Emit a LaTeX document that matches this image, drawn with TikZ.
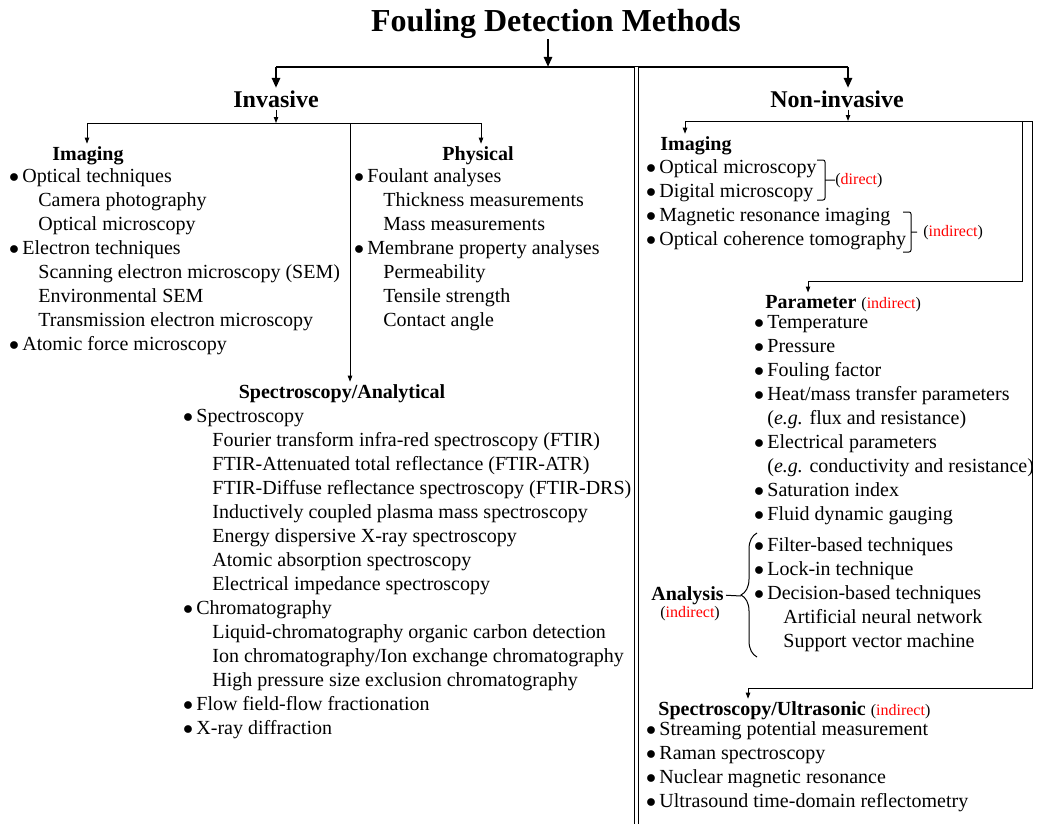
\documentclass[tikz,border=0pt]{standalone}
\usepackage{fontspec}
\setmainfont{Liberation Serif}
\usetikzlibrary{arrows.meta,decorations.pathreplacing,positioning}
\newcommand{\bul}{\makebox[5pt][l]{\hspace*{-1.6pt}$\bullet$}}
\newcommand{\subi}{\hspace*{13pt}}
\newcommand{\noind}{\hspace*{5pt}}
\newcommand{\note}[1]{{\fontsize{8}{9.6}\selectfont(\textcolor{red}{#1})}}
\begin{document}
\begin{tikzpicture}[
  x=0.5pt, y=-0.5pt,
  ttl/.style={font={\fontsize{16}{19}\selectfont\bfseries}, inner sep=0pt, anchor=base},
  grp/.style={font={\fontsize{12}{14}\selectfont\bfseries}, inner sep=1pt, anchor=base},
  hd/.style={font={\fontsize{10}{12}\selectfont\bfseries}, inner sep=1pt, anchor=base},
  hdw/.style={font={\fontsize{10}{12}\selectfont}, inner sep=1pt, anchor=base west},
  itm/.style={font={\fontsize{10}{12}\selectfont}, inner sep=0pt, anchor=base west},
  nt/.style={font={\fontsize{8}{9.6}\selectfont}, inner sep=0pt, anchor=base west},
  tk/.style={line width=1.4pt},
  tka/.style={tk, -{Triangle[length=5pt,width=4pt]}},
  cn/.style={line width=0.5pt},
  cna/.style={cn, -{Triangle[length=3pt,width=2.2pt]}},
  brk/.style={line width=0.5pt, rounded corners=1pt}
]
\useasboundingbox (0,0) rectangle (1037,824);
% top level
\node[ttl] (ttl) at (556,32) {Fouling Detection Methods};
\node[grp] (inv) at (276,107) {Invasive};
\node[grp] (ninv) at (837,107) {Non-invasive};
\coordinate (bm) at (548,67);
\coordinate (bl) at (276,67);
\coordinate (br) at (848,67);
\draw[tk] (bl) -- (br);
\draw[tka] (ttl.south -| bm) -- (bm);
\draw[tka] (bl) -- (inv.north);
\draw[tka] (br) -- (br |- ninv.north);
\coordinate (dv0) at (636.5,67);
\coordinate (dv1) at (636.5,824);
\draw[line width=0.75pt, double distance=1.2pt] (dv0) -- (dv1);
% invasive
\node[hd] (imgL) at (88,160) {Imaging};
\node[hd] (phy) at (478,160) {Physical};
\node[hd] (spa) at (342,398) {Spectroscopy/Analytical};
\coordinate (lrow) at (276,123);
\coordinate (l0) at (87,123);
\coordinate (l1) at (481,123);
\coordinate (l2) at (350,123);
\draw[cn] (l0) -- (l1);
\draw[cna] (inv) -- (lrow);
\draw[cna] (l0) -- (l0 |- imgL.north);
\draw[cna] (l1) -- (l1 |- phy.north);
\draw[cna] (l2) -- (l2 |- spa.north);
\foreach \t [count=\i from 0] in {{\bul Optical techniques}, {\subi Camera photography}, {\subi Optical microscopy}, {\bul Electron techniques}, {\subi Scanning electron microscopy (SEM)}, {\subi Environmental SEM}, {\subi Transmission electron microscopy}, {\bul Atomic force microscopy}}
  \node[itm] (imgL\i) at (12,182+24*\i) {\t};
\foreach \t [count=\i from 0] in {{\bul Foulant analyses}, {\subi Thickness measurements}, {\subi Mass measurements}, {\bul Membrane property analyses}, {\subi Permeability}, {\subi Tensile strength}, {\subi Contact angle}}
  \node[itm] (phy\i) at (357,182+24*\i) {\t};
\foreach \t [count=\i from 0] in {{\bul Spectroscopy}, {\subi Fourier transform infra-red spectroscopy (FTIR)}, {\subi FTIR-Attenuated total reflectance (FTIR-ATR)}, {\subi FTIR-Diffuse reflectance spectroscopy (FTIR-DRS)}, {\subi Inductively coupled plasma mass spectroscopy}, {\subi Energy dispersive X-ray spectroscopy}, {\subi Atomic absorption spectroscopy}, {\subi Electrical impedance spectroscopy}, {\bul Chromatography}, {\subi Liquid-chromatography organic carbon detection}, {\subi Ion chromatography/Ion exchange chromatography}, {\subi High pressure size exclusion chromatography}, {\bul Flow field-flow fractionation}, {\bul X-ray diffraction}}
  \node[itm] (spa\i) at (186,422+24*\i) {\t};
% non-invasive
\node[hd] (imgR) at (696,150) {Imaging};
\node[hdw] (par) at (763,308) {\textbf{Parameter} \note{indirect}};
\node[hdw] (su) at (656,715) {\textbf{Spectroscopy/Ultrasonic} \note{indirect}};
\coordinate (nv) at (848,121);
\coordinate (r0) at (685,121);
\coordinate (r1) at (1022,121);
\coordinate (r2) at (1032,121);
\coordinate (p0) at (808,281);
\coordinate (s0) at (748,688);
\draw[cn] (r0) -- (r2);
\draw[cna] (br |- ninv.south) -- (nv);
\draw[cna] (r0) -- (r0 |- imgR.north);
\draw[cna] (r1) |- (p0) -- (p0 |- par.north);
\draw[cna] (r2) |- (s0) -- (s0 |- su.north);
\foreach \t [count=\i from 0] in {{\bul Optical microscopy}, {\bul Digital microscopy}, {\bul Magnetic resonance imaging}, {\bul Optical coherence tomography}}
  \node[itm] (imgR\i) at (649,173+24*\i) {\t};
\coordinate (b1t) at (817,160);
\coordinate (b1b) at (817,200);
\coordinate (b1m) at (825,180);
\draw[brk] (b1t) -- ++(8,0) -- ++(0,40) -- (b1b);
\node[nt] (dir) at (835,184) {(\textcolor{red}{direct})};
\draw[cn] (b1m) -- (dir.west);
\coordinate (b2t) at (903,212);
\coordinate (b2b) at (903,252);
\coordinate (b2m) at (911,232);
\draw[brk] (b2t) -- ++(8,0) -- ++(0,40) -- (b2b);
\node[nt] (ind) at (923,236) {(\textcolor{red}{indirect})};
\draw[cn] (b2m) -- ([xshift=-3pt]ind.west);
\foreach \t [count=\i from 0] in {{\bul Temperature}, {\bul Pressure}, {\bul Fouling factor}, {\bul Heat/mass transfer parameters}, {\noind(\textit{e.g.} flux and resistance)}, {\bul Electrical parameters}, {\noind(\textit{e.g.} conductivity and resistance)}, {\bul Saturation index}, {\bul Fluid dynamic gauging}}
  \node[itm] (par\i) at (757,328+24*\i) {\t};
\node[hd, anchor=base east] (ana) at (726,600) {Analysis};
\node[nt, anchor=base] (anan) at (690,617) {(\textcolor{red}{indirect})};
\coordinate (anatip) at (741,596);
\draw[cn] (ana.east) -- (anatip);
\draw[line width=0.5pt, decorate, decoration={brace, amplitude=8pt}] (757,657) -- (757,533);
\foreach \t [count=\i from 0] in {{\bul Filter-based techniques}, {\bul Lock-in technique}, {\bul Decision-based techniques}, {\subi Artificial neural network}, {\subi Support vector machine}}
  \node[itm] (ana\i) at (757,551+24*\i) {\t};
\foreach \t [count=\i from 0] in {{\bul Streaming potential measurement}, {\bul Raman spectroscopy}, {\bul Nuclear magnetic resonance}, {\bul Ultrasound time-domain reflectometry}}
  \node[itm] (su\i) at (649,735+24*\i) {\t};
\end{tikzpicture}
\end{document}
